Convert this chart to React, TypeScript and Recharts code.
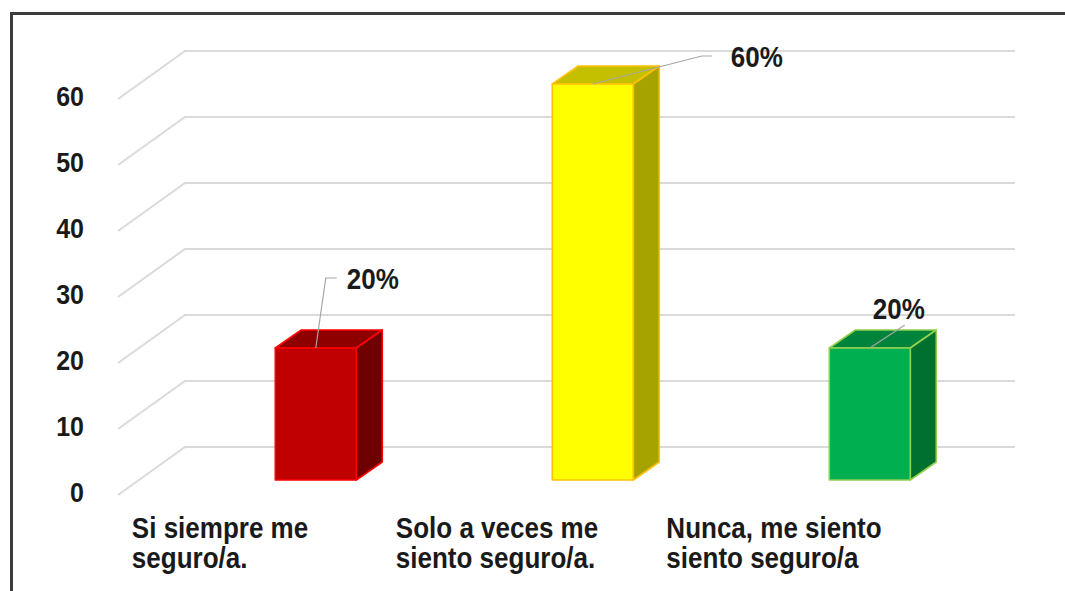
import React from 'react';
import { BarChart, Bar, XAxis, YAxis, CartesianGrid, LabelList } from 'recharts';

// categories (each split into its two printed lines)
const categoryLines = [
  ['Si siempre me', 'seguro/a.'],
  ['Solo a veces me', 'siento seguro/a.'],
  ['Nunca, me siento', 'siento seguro/a'],
];
const percentValues = [20, 60, 20];
const percentLabels = ['20%', '60%', '20%'];
const yTicks = [0, 10, 20, 30, 40, 50, 60];

const barColors = [
  { front: '#C00000', top: '#8E0000', side: '#6E0000', edge: '#FF0000' },
  { front: '#FFFF00', top: '#C4C000', side: '#A6A300', edge: '#FFC000' },
  { front: '#00B050', top: '#00843C', side: '#00702E', edge: '#92D050' },
];

// where each data label was dragged to, relative to the top of the bar front
const labelOffsets = [
  { ex: 10, ey: -70, hook: 11, tx: 31, ty: -59 },
  { ex: 109, ey: -28, hook: 10, tx: 138, ty: -17 },
  { ex: 35, ey: -23, hook: 0, tx: 3, ty: -29 },
];

const data = categoryLines.map((lines, i) => ({
  name: lines.join(' '),
  value: percentValues[i],
  label: percentLabels[i],
}));

const FONT = '"Liberation Sans", Arial, sans-serif';
const STRETCH = 1.1;
const DX = 26; // bar depth
const DY = -18;
const PLOT_BOTTOM = 480;

const measure = (txt: string, size: number) => {
  const ctx = document.createElement('canvas').getContext('2d');
  if (!ctx) return txt.length * size * 0.55;
  ctx.font = `bold ${size}px ${FONT}`;
  return ctx.measureText(txt).width;
};

const Txt = ({ x, y, children, anchor = 'start', size = 26 }: any) => (
  <g transform={`translate(${x},${y}) scale(1,${STRETCH})`}>
    <text x={0} y={0} textAnchor={anchor} fontFamily={FONT} fontWeight="bold" fontSize={size} fill="#1a1a1a">
      {children}
    </text>
  </g>
);

const Box3D = (props: any) => {
  const { x, y, width, height, payload } = props;
  const i = data.findIndex((d) => d.name === payload.name);
  const c = barColors[i];
  return (
    <g stroke={c.edge} strokeWidth={1.6} strokeLinejoin="round">
      <path d={`M${x},${y}L${x + DX},${y + DY}L${x + width + DX},${y + DY}L${x + width},${y}Z`} fill={c.top} />
      <path
        d={`M${x + width},${y}L${x + width + DX},${y + DY}L${x + width + DX},${y + height + DY}L${x + width},${y + height}Z`}
        fill={c.side}
      />
      <rect x={x} y={y} width={width} height={height} fill={c.front} />
    </g>
  );
};

const PctLabel = (props: any) => {
  const { x, y, width, value, index } = props;
  const o = labelOffsets[index];
  const cx = x + width / 2;
  const pts = [`${cx},${y}`, `${cx + o.ex},${y + o.ey}`];
  if (o.hook) pts.push(`${cx + o.ex + o.hook},${y + o.ey}`);
  return (
    <g>
      <polyline points={pts.join(' ')} fill="none" stroke="#a6a6a6" strokeWidth={1.2} />
      <Txt x={cx + o.tx} y={y + o.ty}>{value}</Txt>
    </g>
  );
};

// gridlines drawn with the 3D floor/wall offset
const GridLine = (props: any) => {
  const { x1, x2, y1 } = props;
  const bx1 = x1 + 7.5;
  const bx2 = x2 + 6.5;
  const by = y1 - 33;
  return (
    <path
      d={`M${bx1 - 67},${by + 48}L${bx1},${by}L${bx2},${by}`}
      fill="none"
      stroke="#dadada"
      strokeWidth={2}
    />
  );
};

const YTick = (props: any) => {
  const { y, payload } = props;
  return <Txt x={84} y={y + 22} anchor="end" size={25}>{payload.value}</Txt>;
};

const CatTick = (props: any) => {
  const { x, index } = props;
  const lines = categoryLines[index];
  const w = Math.max(...lines.map((l) => measure(l, 26)));
  const left = x - 96 - w / 2;
  return (
    <g>
      <Txt x={left} y={PLOT_BOTTOM + 58}>{lines[0]}</Txt>
      <Txt x={left} y={PLOT_BOTTOM + 88}>{lines[1]}</Txt>
    </g>
  );
};

export default function App() {
  return (
    <div style={{ position: 'absolute', left: 0, top: 0, width: 1065, height: 591, background: '#fff', overflow: 'hidden' }}>
      <div
        style={{
          position: 'absolute',
          left: 10,
          top: 12,
          width: 1100,
          height: 640,
          borderTop: '3px solid #3c3c3c',
          borderLeft: '3px solid #3c3c3c',
        }}
      />
      <div style={{ position: 'absolute', left: 0, top: 0 }}>
        <BarChart
          width={1065}
          height={591}
          data={data}
          margin={{ top: 84, right: 56.5, bottom: 11, left: 117.5 }}
          barCategoryGap="35.3%"
        >
          <CartesianGrid vertical={false} horizontal={(p: any) => <GridLine key={p.key} {...p} />} />
          <YAxis
            domain={[0, 60]}
            ticks={yTicks}
            width={60}
            axisLine={false}
            tickLine={false}
            tick={(p: any) => <YTick {...p} />}
            interval={0}
          />
          <XAxis
            dataKey="name"
            height={100}
            axisLine={false}
            tickLine={false}
            interval={0}
            tick={(p: any) => <CatTick {...p} />}
          />
          <Bar dataKey="value" shape={<Box3D />} isAnimationActive={false}>
            <LabelList dataKey="label" content={<PctLabel />} />
          </Bar>
        </BarChart>
      </div>
    </div>
  );
}
